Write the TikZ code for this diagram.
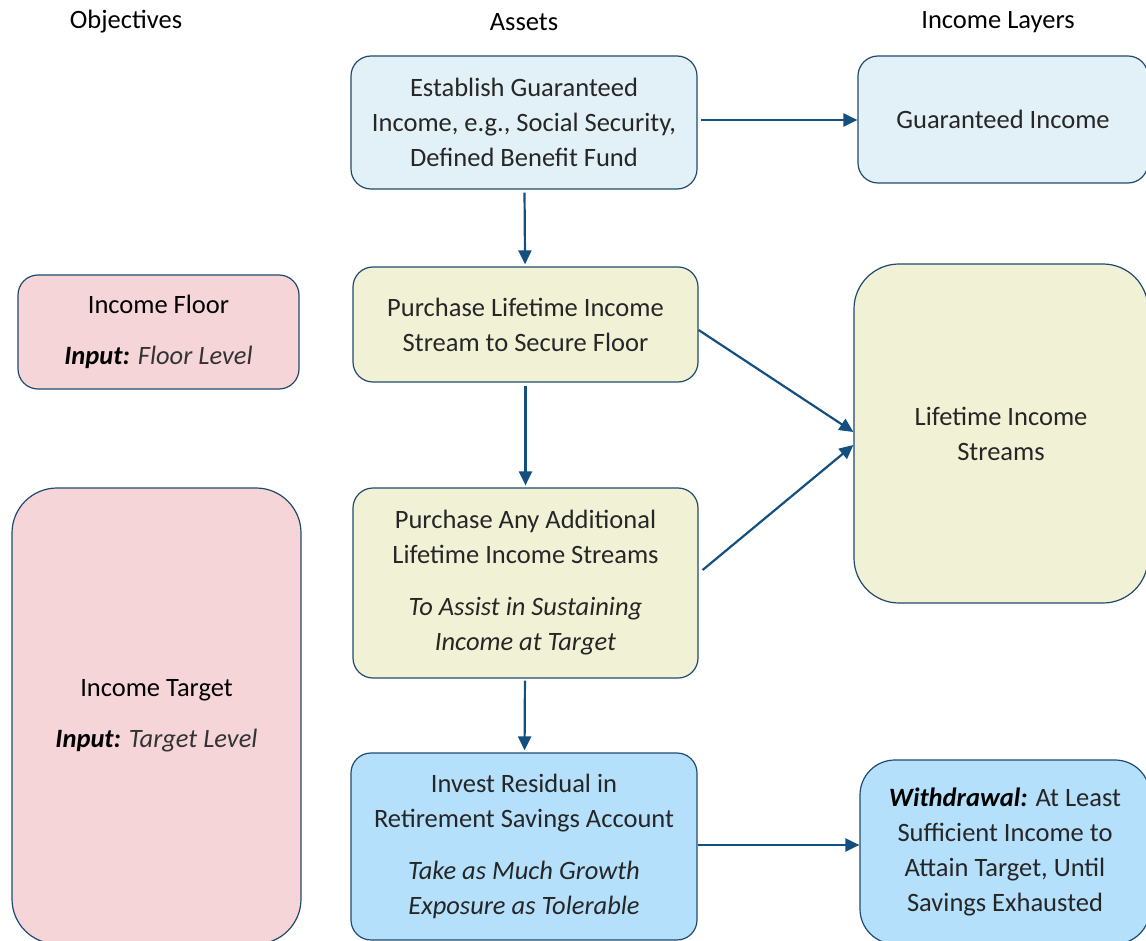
\documentclass[tikz,border=0pt]{standalone}
\usepackage{fontspec}
\setmainfont{Carlito}
\usetikzlibrary{arrows.meta}

\definecolor{boxline}{HTML}{1F4A6E}
\definecolor{arrowblue}{HTML}{14507F}
\definecolor{paleblue}{HTML}{E2F1F7}
\definecolor{paleolive}{HTML}{F1F2D5}
\definecolor{palepink}{HTML}{F5D5D8}
\definecolor{skyblue}{HTML}{B4E0FC}

\tikzset{
  layer/.style={draw=boxline, line width=1.2pt, rounded corners=20pt, align=center,
    text=black!85, inner sep=0pt, font=\fontsize{26.5}{35}\selectfont},
  heading/.style={font=\fontsize{26.5}{30}\selectfont, text=black},
  flow/.style={draw=arrowblue, line width=2.2pt, -{Triangle[length=14pt,width=13pt]}}
}

\begin{document}
\begin{tikzpicture}[x=1pt,y=-1pt]
\useasboundingbox (0,0) rectangle (1146,941);
\clip (0,0) rectangle (1146,941);

\node[heading] (hobj) at (126,22) {Objectives};
\node[heading] (hast) at (524,22) {Assets};
\node[heading] (hlay) at (998,22) {Income Layers};

% assets column
\node[layer, fill=paleblue, minimum width=346pt, minimum height=133pt] (guar) at (524,122.5)
  {Establish Guaranteed\\Income, e.g., Social Security,\\Defined Benefit Fund};
\node[layer, fill=paleolive, minimum width=345pt, minimum height=115pt] (buy1) at (525.5,324.5)
  {Purchase Lifetime Income\\Stream to Secure Floor};
\node[layer, fill=paleolive, minimum width=345pt, minimum height=190pt] (buy2) at (525.5,583)
  {Purchase Any Additional\\Lifetime Income Streams\\[17pt]\itshape To Assist in Sustaining\\\itshape Income at Target};
\node[layer, fill=skyblue, minimum width=346pt, minimum height=187pt] (invest) at (524,846.5)
  {Invest Residual in\\Retirement Savings Account\\[17pt]\itshape Take as Much Growth\\\itshape Exposure as Tolerable};

% objectives column
\node[layer, fill=palepink, minimum width=281pt, minimum height=114pt, text=black] (floor) at (158.5,332)
  {Income Floor\\[16pt]\textbf{\textit{Input:}} \textit{\color{black!80}Floor Level}};
\node[layer, fill=palepink, minimum width=289pt, minimum height=456pt, rounded corners=45pt, text=black] (target) at (156.5,716)
  {Income Target\\[16pt]\textbf{\textit{Input:}} \textit{\color{black!80}Target Level}};

% income layers column
\node[layer, fill=paleblue, minimum width=290pt, minimum height=127pt] (gincome) at (1003,119.5)
  {Guaranteed Income};
\node[layer, fill=paleolive, minimum width=294pt, minimum height=339pt, rounded corners=45pt] (lifetime) at (1001,433.5)
  {Lifetime Income\\Streams};
\node[layer, fill=skyblue, minimum width=290pt, minimum height=184pt, rounded corners=35pt] (withdraw) at (1005,852)
  {\textbf{\textit{\color{black}Withdrawal:}} At Least\\Sufficient Income to\\Attain Target, Until\\Savings Exhausted};

% connectors
\draw[flow, shorten <=3pt, shorten >=2pt] (guar) -- (buy1);
\draw[flow, shorten <=3pt, shorten >=2pt] (buy1) -- (buy2);
\draw[flow, shorten <=2pt, shorten >=2pt] (buy2) -- (invest);
\draw[flow, shorten <=3pt] ([yshift=2.5pt]guar.east) -- ([yshift=-0.5pt]gincome.west);
\draw[flow] ([yshift=-5.5pt]buy1.east) -- ([yshift=1.5pt]lifetime.west);
\draw[flow] ([xshift=4pt,yshift=13pt]buy2.east) -- ([yshift=-11.5pt]lifetime.west);
\draw[flow] ([yshift=1.5pt]invest.east) -- ([yshift=7pt]withdraw.west);

\end{tikzpicture}
\end{document}
